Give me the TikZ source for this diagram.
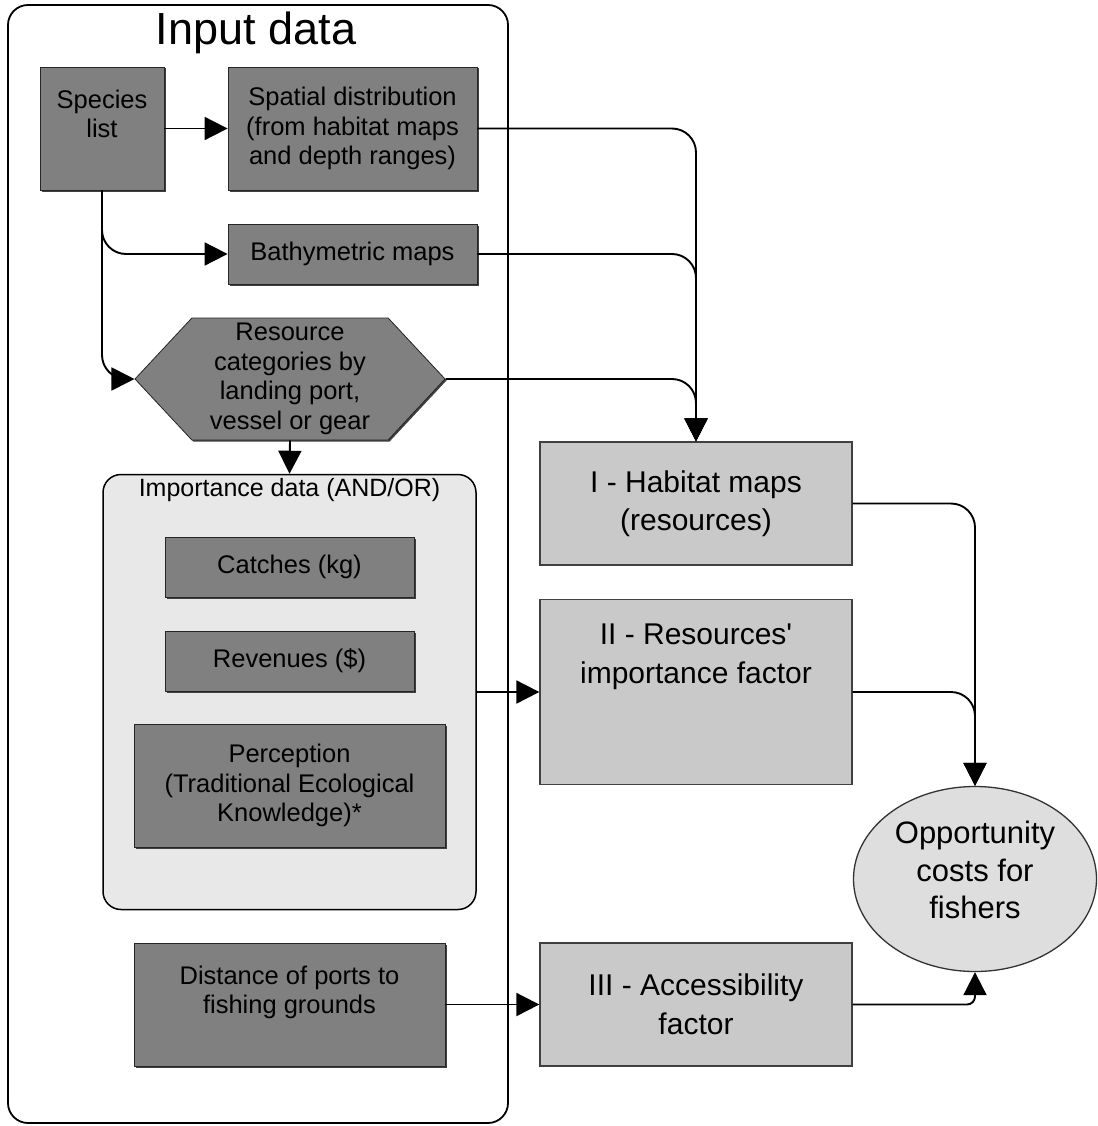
\documentclass[tikz,border=0pt]{standalone}
\usepackage{fontspec}
\setmainfont{Liberation Sans}
\usetikzlibrary{positioning,arrows.meta,shapes.symbols,shapes.geometric,shadows}

\begin{document}
\begin{tikzpicture}[
  x=1pt, y=-1pt,
  darkbox/.style={
    draw=black!85, line width=0.8pt, fill=black!50,
    align=center, inner sep=0pt,
    font=\fontsize{25.5}{29.5}\selectfont,
    drop shadow={shadow xshift=1.5pt, shadow yshift=-1.5pt, fill=black!75, opacity=1}
  },
  lightbox/.style={
    draw=black!75, line width=1.3pt, fill=black!21,
    align=center, inner sep=0pt,
    font=\fontsize{30}{38.5}\selectfont
  },
  grp/.style={draw=black, line width=1.5pt, rounded corners=18pt, fill=black!9},
  frame/.style={draw=black, line width=1.8pt, rounded corners=20pt},
  arr/.style={-{Triangle[length=23pt,width=23pt]}, line width=1.9pt, rounded corners=24pt},
]
\useasboundingbox (0,0) rectangle (1097,1126);
\fill[white] (0,0) rectangle (1097,1126);

%% --- Input data frame ------------------------------------------------
\node[frame, minimum width=500pt, minimum height=1118pt] (input) at (258,564) {};
\node[font=\fontsize{45}{52}\selectfont] (title) at (256,33) {Input data};

\node[darkbox, minimum width=124pt, minimum height=123pt] (species) at (102,128.5) {Species\\list\\~};
\node[darkbox, minimum width=249pt, minimum height=123pt] (spatial) at (352.5,128.5)
  {Spatial distribution\\(from habitat maps\\and depth ranges)};
\node[darkbox, minimum width=249pt, minimum height=60pt] (bathy) at (352.5,254) {Bathymetric maps};
\node[darkbox, signal, signal to=west and east, signal pointer angle=94,
  minimum width=310pt, minimum height=122pt] (rescat) at (290,379)
  {Resource\\categories by\\landing port,\\vessel or gear};

%% --- Importance data group -------------------------------------------
\node[grp, minimum width=373pt, minimum height=435pt] (impdata) at (289.5,692) {};
\node[font=\fontsize{25}{30}\selectfont] (imptitle) at (289.5,490) {Importance data (AND/OR)};
\node[darkbox, minimum width=249pt, minimum height=60pt] (catches) at (289.5,567) {Catches (kg)};
\node[darkbox, minimum width=249pt, minimum height=60pt] (revenues) at (289.5,661) {Revenues (\$)};
\node[darkbox, minimum width=311pt, minimum height=123pt] (percep) at (289.5,785.5)
  {Perception\\(Traditional Ecological\\Knowledge)*};

\node[darkbox, minimum width=311pt, minimum height=123pt] (distance) at (289.5,1004.5)
  {Distance of ports to\\fishing grounds\\~};

%% --- Factors and result ----------------------------------------------
\node[lightbox, minimum width=312pt, minimum height=123pt] (habitat) at (696,503.5)
  {I - Habitat maps\\(resources)};
\node[lightbox, minimum width=312pt, minimum height=185pt] (impfactor) at (696,692)
  {II - Resources\textquotesingle\\importance factor\\~\\~};
\node[lightbox, minimum width=312pt, minimum height=123pt] (access) at (696,1004.5)
  {III - Accessibility\\factor};
\node[ellipse, draw=black!80, line width=1.3pt, fill=black!13, inner sep=0pt,
  minimum width=243pt, minimum height=185pt, align=center,
  font=\fontsize{31}{37.5}\selectfont] (opp) at (975,879)
  {Opportunity\\costs for\\fishers\\[-19.5pt]\mbox{}};

%% --- Connectors -------------------------------------------------------
\draw[arr] (species) -- (spatial);
\draw[arr] (species.south) |- (bathy.west);
\draw[arr] (species.south) |- (rescat.west);
\draw[arr] (rescat.south) -- (impdata.north);

\draw[arr] (spatial.east) -| (habitat.north);
\draw[arr] (bathy.east) -| (habitat.north);
\draw[arr] (rescat.east) -| (habitat.north);

\draw[arr] (impdata.east) -- (impfactor.west);
\draw[arr] (distance) -- (access);

\draw[arr] (habitat.east) -| (opp.north);
\draw[arr] (impfactor.east) -| (opp.north);
\draw[arr, rounded corners=8pt] (access.east) -| (opp.south);

\end{tikzpicture}
\end{document}
